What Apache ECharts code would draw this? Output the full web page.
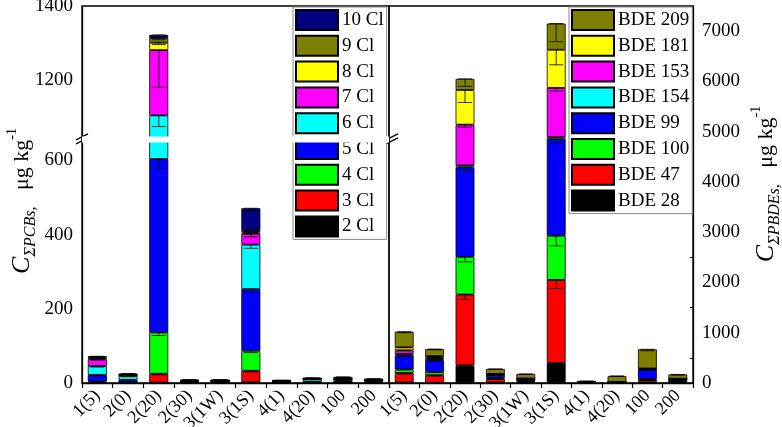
<!DOCTYPE html>
<html>
<head>
<meta charset="utf-8">
<script src="https://cdn.jsdelivr.net/npm/echarts@6.0.0/dist/echarts.min.js"></script>
<style>
html, body { margin: 0; padding: 0; background: #fff; }
#chart { width: 782px; height: 427px; }
</style>
</head>
<body>
<div id="chart"></div>
<script>
const sites = ['1(5)', '2(0)', '2(20)', '2(30)', '3(1W)', '3(1S)', '4(1)', '4(20)', '100', '200']

// PCB homologue groups, ug/kg, bottom of stack first
const pcbNames = ['2 Cl', '3 Cl', '4 Cl', '5 Cl', '6 Cl', '7 Cl', '8 Cl', '9 Cl', '10 Cl']
const pcbColors = ['#000000', '#ff0000', '#00ff00', '#0000ff', '#00ffff', '#ff00ff', '#ffff00', '#808000', '#000080']
const cl2 = [0.5, 0.5, 1, 2, 3, 2, 3, 1, 2, 1.5]
const cl3 = [0.5, 0, 24, 0.5, 0.5, 31, 0.5, 0.5, 0.5, 0.5]
const cl4 = [3, 1, 111, 0.5, 0.5, 54, 0.5, 0.5, 0.5, 0.5]
const cl5 = [18, 7, 468, 1.5, 1, 166, 1, 2, 3, 2]
const cl6 = [24, 10, 501, 1, 1, 120, 0.5, 7, 4, 3.5]
const cl7 = [18, 3, 176, 0.5, 0.5, 29, 0.5, 0.5, 0.5, 0.5]
const cl8 = [2, 0.5, 20, 0, 0, 4, 0, 0, 0, 0]
const cl9 = [4, 1, 13, 0.5, 0.5, 4, 0.5, 0.5, 1, 0.5]
const cl10 = [2, 2, 8, 2.5, 2, 61, 1, 2, 5, 2.5]
const pcbData = [cl2, cl3, cl4, cl5, cl6, cl7, cl8, cl9, cl10]

// standard deviations of the PCB groups
const cl2Sd = [0.2, 0.2, 0.5, 0.5, 0.5, 1, 0.5, 0.3, 0.5, 0.3]
const cl3Sd = [0.2, 0, 3, 0.2, 0.2, 3, 0.2, 0.2, 0.2, 0.2]
const cl4Sd = [0.5, 0.3, 8, 0.2, 0.2, 5, 0.2, 0.2, 0.2, 0.2]
const cl5Sd = [2, 1, 25, 0.5, 0.3, 8, 0.3, 0.5, 0.5, 0.5]
const cl6Sd = [3, 1.5, 30, 0.3, 0.3, 10, 0.2, 1.5, 1, 1]
const cl7Sd = [2, 0.5, 100, 0.2, 0.2, 8, 0.2, 0.2, 0.2, 0.2]
const cl8Sd = [0.5, 0.2, 5, 0, 0, 2, 0, 0, 0, 0]
const cl9Sd = [0.5, 0.2, 5, 0.2, 0.2, 2, 0.2, 0.2, 0.3, 0.2]
const cl10Sd = [0.5, 0.5, 8, 1, 1, 5, 1, 1, 1.5, 1]
const pcbSd = [cl2Sd, cl3Sd, cl4Sd, cl5Sd, cl6Sd, cl7Sd, cl8Sd, cl9Sd, cl10Sd]

// PBDE congeners, ug/kg, bottom of stack first
const bdeNames = ['BDE 28', 'BDE 47', 'BDE 100', 'BDE 99', 'BDE 154', 'BDE 153', 'BDE 181', 'BDE 209']
const bdeColors = ['#000000', '#ff0000', '#00ff00', '#0000ff', '#00ffff', '#ff00ff', '#ffff00', '#808000']
const bde28 = [10, 5, 350, 10, 10, 400, 10, 5, 15, 30]
const bde47 = [190, 150, 1410, 70, 20, 1650, 5, 5, 45, 5]
const bde100 = [70, 60, 750, 20, 10, 880, 0, 0, 20, 5]
const bde99 = [280, 240, 1780, 60, 40, 1920, 5, 10, 190, 40]
const bde154 = [30, 25, 40, 5, 0, 40, 0, 0, 10, 0]
const bde153 = [70, 30, 810, 10, 5, 980, 0, 0, 5, 0]
const bde181 = [60, 25, 690, 5, 5, 760, 0, 0, 5, 5]
const bde209 = [310, 140, 220, 100, 90, 520, 20, 120, 380, 85]
const bdeData = [bde28, bde47, bde100, bde99, bde154, bde153, bde181, bde209]

// standard deviations of the PBDE congeners
const bde28Sd = [3, 2, 20, 2, 2, 30, 5, 2, 5, 5]
const bde47Sd = [20, 15, 100, 10, 5, 170, 3, 2, 8, 2]
const bde100Sd = [8, 8, 100, 5, 3, 200, 0, 0, 4, 2]
const bde99Sd = [25, 20, 60, 8, 5, 70, 3, 3, 20, 8]
const bde154Sd = [4, 3, 10, 1, 0, 10, 0, 0, 2, 0]
const bde153Sd = [8, 5, 50, 2, 1, 65, 0, 0, 1, 0]
const bde181Sd = [8, 4, 250, 1, 1, 300, 0, 0, 1, 1]
const bde209Sd = [20, 15, 150, 10, 10, 360, 20, 10, 30, 10]
const bdeSd = [bde28Sd, bde47Sd, bde100Sd, bde99Sd, bde154Sd, bde153Sd, bde181Sd, bde209Sd]

// left axis is cut between these values
const pcbBreak = [650, 1050]
const pcbTicks = [0, 200, 400, 600, 1200, 1400]
const pcbMinorTicks = [100, 300, 500, 1100, 1300]

const font = 'Liberation Serif'
const chart = echarts.init(document.getElementById('chart'))

function xAxisFor(gridIndex) {
    return {
        type: 'category',
        gridIndex: gridIndex,
        data: sites,
        axisLine: { lineStyle: { color: '#000', width: 1.3 } },
        axisTick: { show: true, length: 5, lineStyle: { color: '#000', width: 1.2 } },
        axisLabel: { interval: 0, rotate: 45, fontSize: 18, fontFamily: font, color: '#000', margin: 10 }
    }
}

function stackSeries(names, colors, data, axisIndex, stack) {
    return names.map((name, i) => ({
        name: name,
        type: 'bar',
        stack: stack,
        xAxisIndex: axisIndex,
        yAxisIndex: axisIndex,
        barWidth: '62%',
        data: data[i],
        itemStyle: { color: colors[i], borderColor: '#000', borderWidth: 0.8 },
        emphasis: { disabled: true }
    }))
}

// error bars hang down from the top of every stacked segment
function errorItems(data, sd) {
    let items = []
    for (let s = 0; s < sites.length; s++) {
        let top = 0
        for (let k = 0; k < data.length; k++) {
            top += data[k][s]
            items.push([s, top, sd[k][s]])
        }
    }
    return items
}

function renderError(params, api) {
    const top = api.coord([api.value(0), api.value(1)])
    const low = api.coord([api.value(0), api.value(1) - api.value(2)])
    const half = 7
    const style = { stroke: '#000', lineWidth: 0.8 }
    return {
        type: 'group',
        children: [
            { type: 'line', shape: { x1: top[0], y1: top[1], x2: top[0], y2: low[1] }, style: style },
            { type: 'line', shape: { x1: top[0] - half, y1: top[1], x2: top[0] + half, y2: top[1] }, style: style },
            { type: 'line', shape: { x1: top[0] - half, y1: low[1], x2: top[0] + half, y2: low[1] }, style: style }
        ]
    }
}

function errorSeries(data, sd, axisIndex) {
    return {
        type: 'custom',
        xAxisIndex: axisIndex,
        yAxisIndex: axisIndex,
        renderItem: renderError,
        data: errorItems(data, sd),
        z: 3,
        silent: true
    }
}

const legendCommon = {
    orient: 'vertical',
    top: 7,
    icon: 'rect',
    itemWidth: 42,
    itemHeight: 20,
    itemGap: 3.8,
    padding: [2, 3, 2, 2],
    borderColor: '#888',
    borderWidth: 1,
    backgroundColor: '#fff',
    textStyle: { fontSize: 19, fontFamily: font, color: '#000', padding: [0, 0, 0, -1] }
}

const gridCommon = {
    top: 6,
    bottom: 44,
    show: true,
    borderColor: '#000',
    borderWidth: 1.3,
    backgroundColor: 'transparent',
    outerBoundsMode: 'none',
    containLabel: false
}

let option = {
    animation: false,
    grid: [
        Object.assign({}, gridCommon, { left: 82, right: 393 }),
        Object.assign({}, gridCommon, { left: 389, right: 89 })
    ],
    legend: [
        Object.assign({}, legendCommon, { left: 293, data: pcbNames.slice().reverse() }),
        Object.assign({}, legendCommon, { left: 569, data: bdeNames.slice().reverse() })
    ],
    xAxis: [xAxisFor(0), xAxisFor(1)],
    yAxis: [
        {
            type: 'value',
            gridIndex: 0,
            min: 0,
            max: 1400,
            interval: 200,
            breaks: [{ start: pcbBreak[0], end: pcbBreak[1], gap: '1.6%' }],
            breakArea: {
                show: true,
                itemStyle: { color: '#fff', borderColor: '#fff', borderWidth: 0, opacity: 1 },
                zigzagAmplitude: 0,
                expandOnClick: false
            },
            breakLabelLayout: { moveOverlap: false },
            axisLine: { show: true, lineStyle: { color: '#000', width: 1.3 } },
            axisTick: { inside: true, length: 5, customValues: pcbTicks.concat(pcbMinorTicks), lineStyle: { color: '#000', width: 1.2 } },
            minorTick: { show: false },
            splitLine: { show: false },
            axisLabel: { fontSize: 19, fontFamily: font, color: '#000', margin: 9, hideOverlap: false, customValues: pcbTicks, formatter: v => String(v) }
        },
        {
            type: 'value',
            gridIndex: 1,
            position: 'right',
            min: 0,
            max: 7500,
            interval: 1000,
            axisLine: { show: true, lineStyle: { color: '#000', width: 1.3 } },
            axisTick: { inside: true, length: 5, lineStyle: { color: '#000', width: 1.2 } },
            minorTick: { show: true, splitNumber: 2, length: 3, lineStyle: { color: '#000', width: 1 } },
            splitLine: { show: false },
            axisLabel: { fontSize: 19, fontFamily: font, color: '#000', margin: 9, showMaxLabel: false, formatter: v => String(v) }
        }
    ],
    series: stackSeries(pcbNames, pcbColors, pcbData, 0, 'pcb')
        .concat(stackSeries(bdeNames, bdeColors, bdeData, 1, 'bde'))
        .concat([errorSeries(pcbData, pcbSd, 0), errorSeries(bdeData, bdeSd, 1)])
}

chart.setOption(option)

// axis titles and break marks
const titleRich = {
    c: { fontSize: 26, fontStyle: 'italic', fontFamily: font, lineHeight: 34, verticalAlign: 'middle' },
    s: { fontSize: 16, fontStyle: 'italic', fontFamily: font, lineHeight: 17, verticalAlign: 'bottom' },
    u: { fontSize: 22, fontFamily: font, lineHeight: 34, verticalAlign: 'middle' },
    p: { fontSize: 14, fontFamily: font, lineHeight: 16, verticalAlign: 'top' }
}

function axisTitle(x, y, sub) {
    return {
        type: 'text',
        x: x,
        y: y,
        rotation: Math.PI / 2,
        style: {
            text: '{c|C}{s|' + sub + ',}{u|   μg kg}{p|-1}',
            rich: titleRich,
            textAlign: 'center',
            textVerticalAlign: 'middle',
            fill: '#000'
        }
    }
}

const yLow = chart.convertToPixel({ yAxisIndex: 0 }, pcbBreak[0])
const yHigh = chart.convertToPixel({ yAxisIndex: 0 }, pcbBreak[1])
const yBreak = (yLow + yHigh) / 2

function slash(x, y) {
    return {
        type: 'line',
        shape: { x1: x - 6, y1: y + 3, x2: x + 6, y2: y - 3 },
        style: { stroke: '#000', lineWidth: 1.2 }
    }
}

chart.setOption({
    graphic: [
        axisTitle(22, 201, 'ΣPCBs'),
        axisTitle(766, 184, 'ΣPBDEs'),
        slash(82, yBreak - 2), slash(82, yBreak + 2),
        slash(392, yBreak - 2), slash(392, yBreak + 2)
    ]
})
</script>
</body>
</html>
